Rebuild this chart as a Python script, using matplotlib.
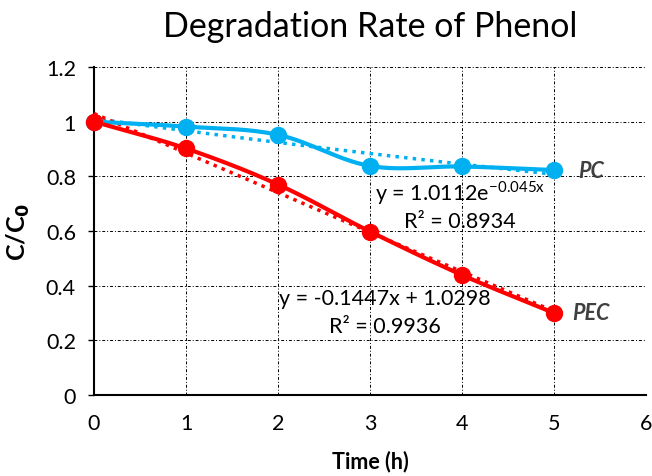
import numpy as np
import matplotlib
matplotlib.use("Agg")
import matplotlib.pyplot as plt

plt.rcParams["font.family"] = ["Lato", "DejaVu Sans"]

time_h = [0, 1, 2, 3, 4, 5]
pc = [1.0, 0.982, 0.952, 0.838, 0.836, 0.823]
pec = [1.0, 0.902, 0.770, 0.598, 0.439, 0.300]

# trendline coefficients as printed on the chart
pc_a, pc_b = 1.0112, -0.045
pec_m, pec_c = -0.1447, 1.0298

blue = "#00B0F0"
red = "#FF0000"


def smooth(x, y, n=30):
    # Catmull-Rom style smoothing, like Excel's smoothed line
    x = np.asarray(x, float)
    y = np.asarray(y, float)
    px = np.concatenate([[2 * x[0] - x[1]], x, [2 * x[-1] - x[-2]]])
    py = np.concatenate([[2 * y[0] - y[1]], y, [2 * y[-1] - y[-2]]])
    xs, ys = [], []
    t = np.linspace(0, 1, n)
    for i in range(1, len(px) - 2):
        p0, p1, p2, p3 = [np.array([px[j], py[j]]) for j in (i - 1, i, i + 1, i + 2)]
        c1 = p1 + (p2 - p0) / 6
        c2 = p2 - (p3 - p1) / 6
        b = ((1 - t) ** 3)[:, None] * p1 + (3 * (1 - t) ** 2 * t)[:, None] * c1 \
            + (3 * (1 - t) * t ** 2)[:, None] * c2 + (t ** 3)[:, None] * p2
        xs.extend(b[:, 0])
        ys.extend(b[:, 1])
    return xs, ys


fig = plt.figure(figsize=(6.52, 4.77), dpi=100)
ax = fig.add_axes([94 / 652, 81 / 477, 552 / 652, 328 / 477])

xt = np.linspace(0, 5, 100)
ax.plot(xt, pc_a * np.exp(pc_b * xt), linestyle=(0, (1, 1.5)), color=blue, lw=2.5, zorder=3)
ax.plot(xt, pec_m * xt + pec_c, linestyle=(0, (1, 1.5)), color=red, lw=2.5, zorder=3)

sx, sy = smooth(time_h, pc)
ax.plot(sx, sy, color=blue, lw=3, zorder=4)
ax.plot(time_h, pc, "o", color=blue, ms=11.5, zorder=5, clip_on=False)
sx, sy = smooth(time_h, pec)
ax.plot(sx, sy, color=red, lw=3, zorder=4)
ax.plot(time_h, pec, "o", color=red, ms=11.5, zorder=5, clip_on=False)

ax.set_xlim(0, 6)
ax.set_ylim(0, 1.2)
ax.set_xticks(range(7))
ax.set_yticks([0, 0.2, 0.4, 0.6, 0.8, 1.0, 1.2])
ax.set_yticklabels(["0", "0.2", "0.4", "0.6", "0.8", "1", "1.2"])
ax.tick_params(axis="both", labelsize=15.5, colors="black")
ax.tick_params(axis="x", length=0, pad=13)
ax.tick_params(axis="y", length=4, width=1, pad=9)

ax.grid(True, color="black", linestyle=(0, (3, 2, 1, 2)), lw=0.7)
for s in ("top", "right"):
    ax.spines[s].set_visible(False)
for s in ("left", "bottom"):
    ax.spines[s].set_linewidth(1.5)

ax.set_title("Degradation Rate of Phenol", fontsize=24.5, pad=22)
ax.set_xlabel("Time (h)", fontsize=15.5, fontweight="bold", labelpad=12)
ax.set_ylabel("C/C$_\\mathbf{0}$", fontsize=18, fontweight="bold", labelpad=10)

ax.text(5.26, 0.82, "PC", fontsize=15.5, fontweight="bold", fontstyle="italic",
        color="#404040", va="center", ha="left")
ax.text(5.2, 0.30, "PEC", fontsize=15.5, fontweight="bold", fontstyle="italic",
        color="#404040", va="center", ha="left")

ax.text(3.98, 0.743, "y = 1.0112e$^{\\mathregular{-0.045x}}$", fontsize=15.5,
        ha="center", va="center")
ax.text(3.98, 0.637, "R² = 0.8934", fontsize=15.5, ha="center", va="center")
ax.text(3.16, 0.355, "y = -0.1447x + 1.0298", fontsize=15.5, ha="center", va="center")
ax.text(3.16, 0.252, "R² = 0.9936", fontsize=15.5, ha="center", va="center")

fig.savefig("out.png", dpi=100)
